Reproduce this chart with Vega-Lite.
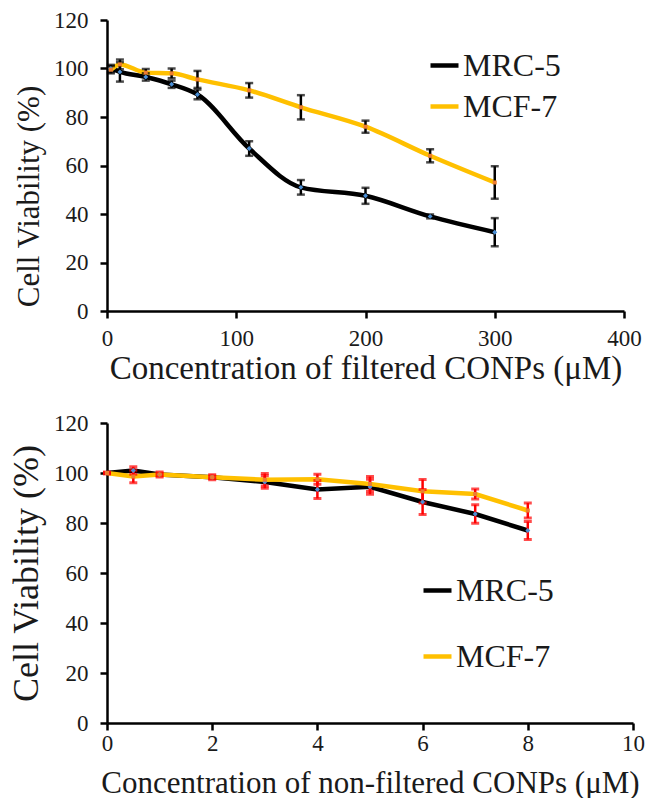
{
  "$schema": "https://vega.github.io/schema/vega-lite/v6.json",
  "background": "white",
  "padding": {"left": 8, "top": 9, "right": 5, "bottom": 0},
  "spacing": 27,
  "resolve": {"scale": {"color": "independent"}, "legend": {"color": "independent"}},
  "config": {
    "view": {"stroke": null},
    "font": "Liberation Serif",
    "axis": {
      "grid": false,
      "domainColor": "#000000",
      "domainWidth": 2.5,
      "tickColor": "#000000",
      "tickWidth": 2.5,
      "tickSize": 7,
      "labelFont": "Liberation Serif",
      "labelFontSize": 23,
      "labelColor": "#1a1a1a",
      "titleFont": "Liberation Serif",
      "titleFontWeight": "normal",
      "titleColor": "#1a1a1a",
      "titleFontSize": 33
    },
    "legend": {
      "orient": "none",
      "title": null,
      "symbolType": "stroke",
      "symbolStrokeWidth": 4.5,
      "symbolSize": 784,
      "labelFont": "Liberation Serif",
      "labelFontSize": 32,
      "labelColor": "#1a1a1a",
      "labelOffset": 2,
      "padding": 0
    }
  },
  "datasets": {
    "filtered": [
      {"conc": 3, "line": "MRC-5", "viability": 100, "err": 1.5},
      {"conc": 10, "line": "MRC-5", "viability": 98.6, "err": 4},
      {"conc": 30, "line": "MRC-5", "viability": 96.5, "err": 1.5},
      {"conc": 50, "line": "MRC-5", "viability": 93.5, "err": 1.5},
      {"conc": 70, "line": "MRC-5", "viability": 89.3, "err": 2},
      {"conc": 110, "line": "MRC-5", "viability": 67, "err": 3},
      {"conc": 150, "line": "MRC-5", "viability": 51, "err": 3},
      {"conc": 200, "line": "MRC-5", "viability": 47.5, "err": 3.3},
      {"conc": 250, "line": "MRC-5", "viability": 39, "err": 0.8},
      {"conc": 300, "line": "MRC-5", "viability": 32.5, "err": 5.8},
      {"conc": 3, "line": "MCF-7", "viability": 99.5, "err": 1.5},
      {"conc": 10, "line": "MCF-7", "viability": 101.7, "err": 2},
      {"conc": 30, "line": "MCF-7", "viability": 98.3, "err": 1.5},
      {"conc": 50, "line": "MCF-7", "viability": 98, "err": 2},
      {"conc": 70, "line": "MCF-7", "viability": 95.5, "err": 3.5},
      {"conc": 110, "line": "MCF-7", "viability": 91, "err": 3},
      {"conc": 150, "line": "MCF-7", "viability": 84, "err": 5},
      {"conc": 200, "line": "MCF-7", "viability": 76, "err": 2.5},
      {"conc": 250, "line": "MCF-7", "viability": 64, "err": 2.7},
      {"conc": 300, "line": "MCF-7", "viability": 53, "err": 6.7}
    ],
    "nonfiltered": [
      {"conc": 0, "line": "MRC-5", "viability": 100, "err": 0.3},
      {"conc": 0.5, "line": "MRC-5", "viability": 101, "err": 1.5},
      {"conc": 1, "line": "MRC-5", "viability": 99.4, "err": 0.5},
      {"conc": 2, "line": "MRC-5", "viability": 98.3, "err": 0.5},
      {"conc": 3, "line": "MRC-5", "viability": 96.4, "err": 2.5},
      {"conc": 4, "line": "MRC-5", "viability": 93.4, "err": 3.6},
      {"conc": 5, "line": "MRC-5", "viability": 94.5, "err": 3},
      {"conc": 6, "line": "MRC-5", "viability": 88.4, "err": 5},
      {"conc": 7, "line": "MRC-5", "viability": 83.6, "err": 3.7},
      {"conc": 8, "line": "MRC-5", "viability": 77, "err": 3.6},
      {"conc": 0, "line": "MCF-7", "viability": 100, "err": 0.3},
      {"conc": 0.5, "line": "MCF-7", "viability": 98.6, "err": 2.5},
      {"conc": 1, "line": "MCF-7", "viability": 99.4, "err": 1},
      {"conc": 2, "line": "MCF-7", "viability": 98.3, "err": 1},
      {"conc": 3, "line": "MCF-7", "viability": 97.3, "err": 2.5},
      {"conc": 4, "line": "MCF-7", "viability": 97.5, "err": 2},
      {"conc": 5, "line": "MCF-7", "viability": 95.6, "err": 3},
      {"conc": 6, "line": "MCF-7", "viability": 92.7, "err": 4.7},
      {"conc": 7, "line": "MCF-7", "viability": 91.6, "err": 2},
      {"conc": 8, "line": "MCF-7", "viability": 85, "err": 3}
    ]
  },
  "vconcat": [
    {
      "width": 517,
      "height": 291,
      "data": {"name": "filtered"},
      "encoding": {
        "x": {
          "field": "conc",
          "type": "quantitative",
          "scale": {"domain": [0, 400], "nice": false},
          "axis": {"values": [0, 100, 200, 300, 400], "title": "Concentration of filtered CONPs (μM)", "labelPadding": 9, "titlePadding": 2, "labelFlush": false}
        },
        "y": {
          "field": "viability",
          "type": "quantitative",
          "scale": {"domain": [0, 120], "nice": false},
          "axis": {"values": [0, 20, 40, 60, 80, 100, 120], "title": "Cell Viability (%)", "labelPadding": 12, "titlePadding": 8, "titleFontSize": 31, "titleY": 176}
        }
      },
      "layer": [
        {
          "mark": {"type": "line", "strokeWidth": 4.5, "interpolate": "monotone"},
          "encoding": {
            "color": {
              "field": "line",
              "type": "nominal",
              "sort": ["MRC-5", "MCF-7"],
              "scale": {"domain": ["MRC-5", "MCF-7"], "range": ["#000000", "#FFC000"]},
              "legend": {"legendX": 321, "legendY": 29, "rowPadding": 8}
            }
          }
        },
        {
          "mark": {"type": "errorbar", "color": "#000000", "thickness": 2.5, "ticks": {"size": 8, "thickness": 2.5}},
          "encoding": {"yError": {"field": "err"}}
        },
        {
          "transform": [{"filter": "datum.line === 'MRC-5'"}],
          "mark": {"type": "point", "shape": "diamond", "filled": true, "size": 24, "opacity": 1, "color": "#4A8FD6"},
          "encoding": {}
        },
        {
          "transform": [{"filter": "datum.line === 'MCF-7'"}],
          "mark": {"type": "point", "shape": "square", "filled": true, "size": 16, "opacity": 1, "color": "#ED7D31"},
          "encoding": {}
        }
      ]
    },
    {
      "width": 526,
      "height": 300,
      "data": {"name": "nonfiltered"},
      "encoding": {
        "x": {
          "field": "conc",
          "type": "quantitative",
          "scale": {"domain": [0, 10], "nice": false},
          "axis": {"values": [0, 2, 4, 6, 8, 10], "title": "Concentration of non-filtered CONPs (μM)", "labelPadding": 2, "titlePadding": 13, "titleFontSize": 31, "labelFlush": false}
        },
        "y": {
          "field": "viability",
          "type": "quantitative",
          "scale": {"domain": [0, 120], "nice": false},
          "axis": {"values": [0, 20, 40, 60, 80, 100, 120], "title": "Cell Viability (%)", "labelPadding": 12, "titlePadding": 8, "titleFontSize": 36}
        }
      },
      "layer": [
        {
          "mark": {"type": "line", "strokeWidth": 4.5},
          "encoding": {
            "color": {
              "field": "line",
              "type": "nominal",
              "sort": ["MRC-5", "MCF-7"],
              "scale": {"domain": ["MRC-5", "MCF-7"], "range": ["#000000", "#FFC000"]},
              "legend": {"legendX": 314, "legendY": 151, "rowPadding": 33}
            }
          }
        },
        {
          "mark": {"type": "errorbar", "color": "#FF0000", "thickness": 2.5, "ticks": {"size": 8, "thickness": 3}},
          "encoding": {"yError": {"field": "err"}}
        },
        {
          "transform": [{"filter": "datum.line === 'MRC-5'"}],
          "mark": {"type": "point", "shape": "diamond", "filled": true, "size": 24, "opacity": 1, "color": "#4A8FD6"},
          "encoding": {}
        },
        {
          "transform": [{"filter": "datum.line === 'MCF-7'"}],
          "mark": {"type": "point", "shape": "square", "filled": true, "size": 16, "opacity": 1, "color": "#ED7D31"},
          "encoding": {}
        }
      ]
    }
  ]
}
